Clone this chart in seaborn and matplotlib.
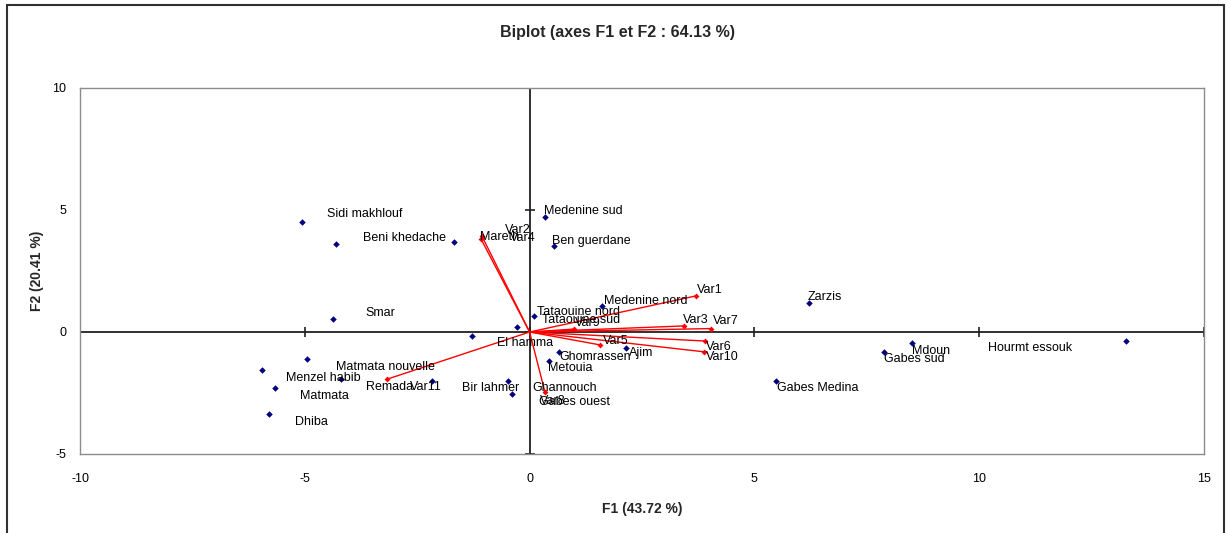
import numpy as np
import pandas as pd
import matplotlib
matplotlib.use("Agg")
import matplotlib.pyplot as plt
import matplotlib.patches as patches
import seaborn as sns

# OBSERVATIONS (scores on F1 / F2)
obs_names = ["Sidi makhlouf", "Beni khedache", "Mareth", "Smar", "Medenine sud",
             "Ben guerdane", "Tataouine nord", "Tataouine sud", "Medenine nord", "Zarzis",
             "Mdoun", "Gabes sud", "Gabes Medina", "Hourmt essouk", "Ajim",
             "Ghomrassen", "Metouia", "Bir lahmer", "Ghannouch", "Gabes ouest",
             "El hamma", "Matmata nouvelle", "Menzel habib", "Matmata", "Dhiba", "Remada"]
obs_f1 = [-5.07, -4.30, -1.69, -4.37, 0.34,
          0.54, 0.10, -0.29, 1.60, 6.21,
          8.51, 7.88, 5.47, 13.26, 2.14,
          0.65, 0.44, -2.18, -0.49, -0.39,
          -1.28, -4.96, -5.95, -5.66, -5.80, -4.20]
obs_f2 = [4.50, 3.59, 3.68, 0.53, 4.73,
          3.54, 0.67, 0.19, 1.08, 1.18,
          -0.44, -0.83, -2.00, -0.36, -0.64,
          -0.83, -1.19, -2.00, -2.01, -2.54,
          -0.16, -1.12, -1.56, -2.31, -3.36, -1.94]

# VARIABLES (loadings)
var_names = ["Var1", "Var2", "Var3", "Var4", "Var5", "Var6",
             "Var7", "Var8", "Var9", "Var10", "Var11"]
var_f1 = [3.70, -1.06, 3.44, -1.08, 1.57, 3.90, 4.03, 0.34, 0.99, 3.87, -3.18]
var_f2 = [1.48, 3.93, 0.25, 3.81, -0.53, -0.37, 0.14, -2.45, 0.12, -0.81, -1.94]

# label offsets in pixels (right, down)
obs_off = {"Sidi makhlouf": (25, -8), "Beni khedache": (27, -6), "Mareth": (26, -5),
           "Smar": (32, -6), "Medenine sud": (-1, -6), "Ben guerdane": (-2, -5),
           "Tataouine nord": (3, -4), "Tataouine sud": (25, -7), "Medenine nord": (2, -5),
           "Zarzis": (-1, -6), "Mdoun": (0, 8), "Gabes sud": (0, 7), "Gabes Medina": (1, 7),
           "Hourmt essouk": (-138, 7), "Ajim": (3, 5), "Ghomrassen": (1, 5),
           "Metouia": (-1, 7), "Bir lahmer": (30, 7), "Ghannouch": (25, 7),
           "Gabes ouest": (27, 8), "El hamma": (25, 7), "Matmata nouvelle": (29, 8),
           "Menzel habib": (24, 8), "Matmata": (25, 8), "Dhiba": (26, 8), "Remada": (25, 8)}
var_off = {"Var1": (1, -6), "Var2": (23, -6), "Var3": (-1, -6), "Var4": (29, -1),
           "Var5": (3, -4), "Var6": (1, 6), "Var7": (2, -8), "Var8": (-5, 9),
           "Var9": (1, -6), "Var10": (2, 5), "Var11": (23, 8)}

sns.set_style("white")
plt.rcParams["font.family"] = ["Liberation Sans", "DejaVu Sans"]
plt.rcParams["axes.unicode_minus"] = False

obs = pd.DataFrame({"name": obs_names, "F1": obs_f1, "F2": obs_f2})
var = pd.DataFrame({"name": var_names, "F1": var_f1, "F2": var_f2})
n = len(var_names)
arrows = pd.DataFrame({"name": var_names * 2,
                       "F1": list(np.zeros(n)) + var_f1,
                       "F2": list(np.zeros(n)) + var_f2})

fig = plt.figure(figsize=(12.31, 5.33), dpi=100)
ax = fig.add_axes([80 / 1231, 79 / 533, 1124 / 1231, 366 / 533])

# zero axes with their tick crosses
ax.axhline(0, color="#202020", lw=1.3, zorder=1)
ax.axvline(0, color="#202020", lw=1.3, zorder=1)
xt = [-10, -5, 0, 5, 10, 15]
yt = [-5, 0, 5, 10]
ax.plot(xt, np.zeros(len(xt)), "|", color="#202020", ms=7, mew=1.2, zorder=1)
ax.plot(np.zeros(len(yt)), yt, "_", color="#202020", ms=7, mew=1.2, zorder=1)

sns.lineplot(data=arrows, x="F1", y="F2", units="name", estimator=None, sort=False,
             color="red", lw=1, ax=ax, zorder=2)
sns.scatterplot(data=var, x="F1", y="F2", color="red", marker="D", s=9,
                linewidth=0, ax=ax, zorder=3)
sns.scatterplot(data=obs, x="F1", y="F2", color="#000080", marker="D", s=11,
                linewidth=0, ax=ax, zorder=3)

for _, r in obs.iterrows():
    dx, dy = obs_off[r["name"]]
    ax.annotate(r["name"], (r["F1"], r["F2"]), xytext=(dx, -dy), textcoords="offset pixels",
                ha="left", va="center", fontsize=9, color="black", zorder=4)
for _, r in var.iterrows():
    dx, dy = var_off[r["name"]]
    ax.annotate(r["name"], (r["F1"], r["F2"]), xytext=(dx, -dy), textcoords="offset pixels",
                ha="left", va="center", fontsize=9, color="black", zorder=4)

ax.set_xlim(-10, 15)
ax.set_ylim(-5, 10)
ax.set_xticks(xt)
ax.set_yticks(yt)
ax.tick_params(length=0, labelsize=9, colors="black")
ax.tick_params(axis="x", pad=14)
ax.tick_params(axis="y", pad=10)
for s in ax.spines.values():
    s.set_color("#8c8c8c")
    s.set_linewidth(1)

ax.set_xlabel("F1 (43.72 %)", fontsize=10, fontweight="bold", labelpad=12)
ax.set_ylabel("F2 (20.41 %)", fontsize=10, fontweight="bold", labelpad=6)
fig.text(618 / 1231, 1 - 33 / 533, "Biplot (axes F1 et F2 : 64.13 %)", ha="center",
         va="center", fontsize=11.5, fontweight="bold")

# chart area border
fig.patches.append(patches.Rectangle((7 / 1231, -0.1), 1217 / 1231, 1.1 - 5 / 533,
                                     transform=fig.transFigure, fill=False,
                                     ec="#303030", lw=1.5))

fig.savefig("out.png", dpi=100)
